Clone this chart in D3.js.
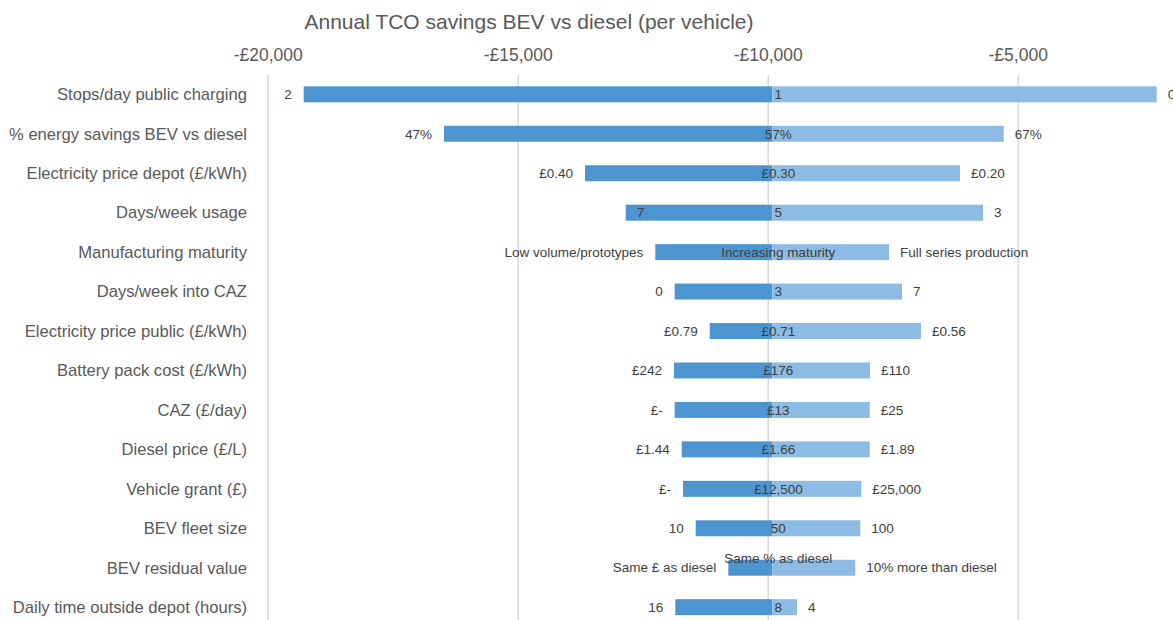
<!DOCTYPE html>
<html>
<head>
<meta charset="utf-8">
<script src="https://cdn.jsdelivr.net/npm/d3@7"></script>
<style>
  html, body { margin: 0; padding: 0; background: #fff; }
  svg { display: block; font-family: "Liberation Sans", Arial, sans-serif; }
</style>
</head>
<body>
<svg id="chart" width="1173" height="620"></svg>
<script>
// Tornado chart: annual TCO savings of a BEV over diesel, per vehicle,
// for low / central / high settings of each input.
const categories = [
  "Stops/day public charging",
  "% energy savings BEV vs diesel",
  "Electricity price depot (£/kWh)",
  "Days/week usage",
  "Manufacturing maturity",
  "Days/week into CAZ",
  "Electricity price public (£/kWh)",
  "Battery pack cost (£/kWh)",
  "CAZ (£/day)",
  "Diesel price (£/L)",
  "Vehicle grant (£)",
  "BEV fleet size",
  "BEV residual value",
  "Daily time outside depot (hours)"
];

// Central-case saving (£/year), where both bars meet
const baseSaving = -9908;

// Saving at the unfavourable input setting (dark bar end)
const lowSavings = [-19280, -16474, -13654, -12840, -12248, -11860, -11160,
                    -11874, -11860, -11720, -11694, -11440, -10788, -11848];
// Saving at the favourable input setting (light bar end)
const highSavings = [-2220, -5280, -6154, -5694, -7574, -7314, -6934,
                     -7954, -7960, -7960, -8128, -8148, -8248, -9414];

// Input values shown beside each bar
const lowInputs = ["2", "47%", "£0.40", "7", "Low volume/prototypes", "0", "£0.79",
                   "£242", "£-", "£1.44", "£-", "10", "Same £ as diesel", "16"];
const baseInputs = ["1", "57%", "£0.30", "5", "Increasing maturity", "3", "£0.71",
                    "£176", "£13", "£1.66", "£12,500", "50", "Same % as diesel", "8"];
const highInputs = ["0", "67%", "£0.20", "3", "Full series production", "7", "£0.56",
                    "£110", "£25", "£1.89", "£25,000", "100", "10% more than diesel", "4"];

const axisTicks = [-20000, -15000, -10000, -5000];
const chartTitle = "Annual TCO savings BEV vs diesel (per vehicle)";

const rows = categories.map((c, i) => ({
  category: c,
  low: lowSavings[i], high: highSavings[i],
  lowText: lowInputs[i], baseText: baseInputs[i], highText: highInputs[i]
}));

const svg = d3.select("#chart");
const W = 1173, H = 620;

const x = d3.scaleLinear().domain([-20000, 0]).range([267.7, 1267.7]);
const y = d3.scaleBand().domain(categories)
  .range([74.6, 626.9]).paddingInner(0.595).paddingOuter(0.2975);

const darkBlue = "#4d95d1";
const lightBlue = "#8cbbe3";
const labelInk = "#404040";
const axisInk = "#595959";

svg.append("defs").append("clipPath").attr("id", "plotclip")
  .append("rect").attr("x", 0).attr("y", 0).attr("width", W).attr("height", H);

const g = svg.append("g").attr("clip-path", "url(#plotclip)");

// Title
svg.append("text")
  .attr("x", 529).attr("y", 29)
  .attr("text-anchor", "middle")
  .attr("font-size", 21)
  .attr("fill", axisInk)
  .text(chartTitle);

// Top value axis with full-height gridlines
const fmt = v => (v < 0 ? "-" : "") + "£" + d3.format(",")(Math.abs(v));
const axis = d3.axisTop(x).tickValues(axisTicks).tickFormat(fmt)
  .tickSize(-(626.9 - 75)).tickPadding(14);
const axisG = g.append("g").attr("transform", "translate(0,75)").call(axis);
axisG.select(".domain").remove();
axisG.selectAll(".tick line")
  .attr("stroke", "#d9d9d9").attr("stroke-width", 1.5)
  .attr("y1", 0).attr("y2", 626.9 - 75);
axisG.selectAll(".tick text")
  .attr("font-size", 17.5).attr("fill", axisInk)
  .attr("font-family", "\"Liberation Sans\", Arial, sans-serif")
  .attr("y", -14).attr("dy", 0);

// Category labels
svg.append("g").selectAll("text").data(rows).join("text")
  .attr("x", 247)
  .attr("y", d => y(d.category) + y.bandwidth() / 2)
  .attr("dy", "0.35em")
  .attr("text-anchor", "end")
  .attr("font-size", 16.6)
  .attr("fill", axisInk)
  .text(d => d.category);

// Bars: dark from the unfavourable end to the centre, light from the centre to the favourable end
const bars = g.append("g");
bars.selectAll("rect.low").data(rows).join("rect")
  .attr("class", "low")
  .attr("x", d => x(d.low))
  .attr("width", d => x(baseSaving) - x(d.low))
  .attr("y", d => y(d.category))
  .attr("height", y.bandwidth())
  .attr("fill", darkBlue);
bars.selectAll("rect.high").data(rows).join("rect")
  .attr("class", "high")
  .attr("x", x(baseSaving))
  .attr("width", d => x(d.high) - x(baseSaving))
  .attr("y", d => y(d.category))
  .attr("height", y.bandwidth())
  .attr("fill", lightBlue);

// Labels sitting inside the dark bar, and a central label lifted above its bar
const lowInsideBar = new Set(["Days/week usage"]);
const baseLifted = new Set(["BEV residual value"]);

const labels = g.append("g")
  .attr("font-size", 13.5)
  .attr("fill", labelInk);

labels.selectAll("text.lowtxt").data(rows).join("text")
  .attr("class", "lowtxt")
  .attr("x", d => lowInsideBar.has(d.category) ? x(d.low) + 11 : x(d.low) - 12)
  .attr("y", d => y(d.category) + y.bandwidth() / 2)
  .attr("dy", "0.35em")
  .attr("text-anchor", d => lowInsideBar.has(d.category) ? "start" : "end")
  .text(d => d.lowText);

labels.selectAll("text.basetxt").data(rows).join("text")
  .attr("class", "basetxt")
  .attr("x", x(baseSaving) + 6)
  .attr("y", d => y(d.category) + y.bandwidth() / 2 - (baseLifted.has(d.category) ? 9 : 0))
  .attr("dy", "0.35em")
  .attr("text-anchor", "middle")
  .text(d => d.baseText);

labels.selectAll("text.hightxt").data(rows).join("text")
  .attr("class", "hightxt")
  .attr("x", d => x(d.high) + 11)
  .attr("y", d => y(d.category) + y.bandwidth() / 2)
  .attr("dy", "0.35em")
  .attr("text-anchor", "start")
  .text(d => d.highText);
</script>
</body>
</html>
